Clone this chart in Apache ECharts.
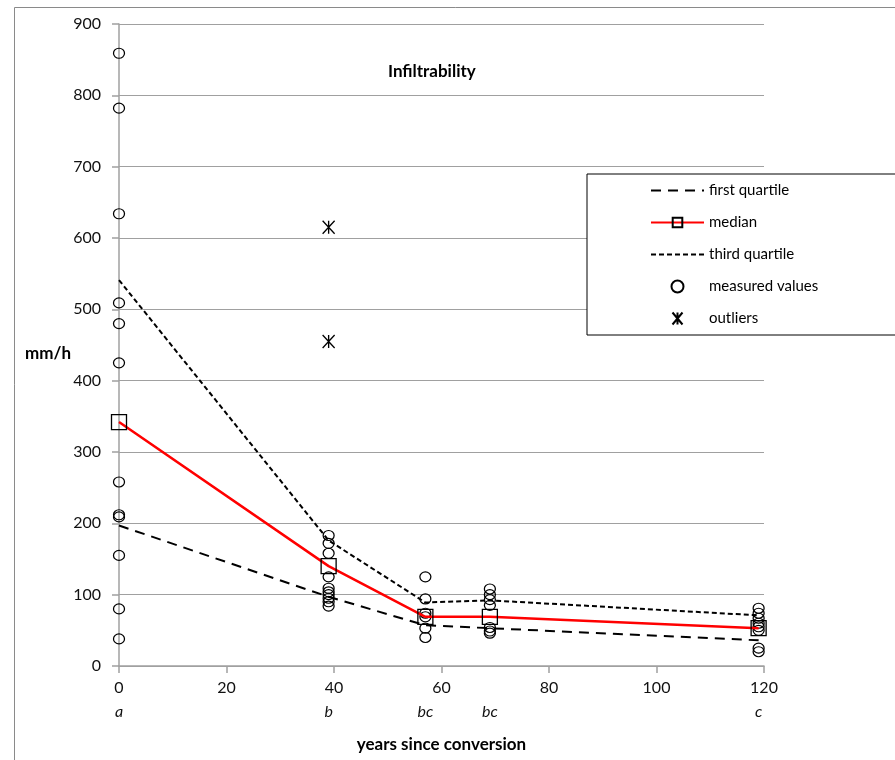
<!DOCTYPE html>
<html>
<head>
<meta charset="utf-8">
<title>Infiltrability</title>
<script src="https://cdn.jsdelivr.net/npm/echarts@6/dist/echarts.min.js"></script>
<style>
  html, body { margin: 0; padding: 0; background: #fff; }
  #chart { width: 895px; height: 760px; }
</style>
</head>
<body>
<div id="chart"></div>
<script>
// years since conversion for each group
const years = [0, 39, 57, 69, 119];
const groupLetters = ['a', 'b', 'bc', 'bc', 'c'];

const firstQuartile = [197, 97, 57, 53, 36];
const median = [342, 140, 69, 69, 53];
const thirdQuartile = [541, 176, 89, 92, 71];

// measured values per group
const measured0 = [859, 782, 634, 509, 480, 425, 258, 212, 209, 155, 80, 38];
const measured39 = [183, 172, 158, 125, 109, 104, 100, 95, 90, 84];
const measured57 = [125, 94, 74, 69, 53, 40];
const measured69 = [108, 100, 93, 85, 54, 49, 46];
const measured119 = [81, 74, 67, 60, 55, 50, 25, 20];

const outlierYear = 39;
const outliers = [615, 455];

const yTicks = [0, 100, 200, 300, 400, 500, 600, 700, 800, 900];
const xTicks = [0, 20, 40, 60, 80, 100, 120];

const font = 'Lato, "Open Sans", sans-serif';

let measuredGroups = [measured0, measured39, measured57, measured69, measured119];
let measuredPoints = [];
measuredGroups.forEach((vals, i) => {
  vals.forEach((v) => measuredPoints.push([years[i], v]));
});

let pair = (arr) => arr.map((v, i) => [years[i], v]);

// no marker in the legend for the quartile lines
let noMarker = { color: 'transparent', borderWidth: 0, opacity: 0 };

let chart = echarts.init(document.getElementById('chart'));

chart.setOption({
  animation: false,
  backgroundColor: '#fff',
  title: {
    text: 'Infiltrability',
    left: 383,
    top: 58,
    textStyle: { fontFamily: font, fontSize: 17, fontWeight: 'bold', color: '#000' }
  },
  grid: { left: 119, right: 131, top: 24, bottom: 94 },
  legend: {
    orient: 'vertical',
    left: 587,
    top: 174,
    padding: [9, 200, 9, 63],
    itemWidth: 53,
    itemHeight: 12,
    itemGap: 17,
    borderColor: '#000',
    borderWidth: 1,
    backgroundColor: '#fff',
    textStyle: { fontFamily: font, fontSize: 15, color: '#000', padding: [0, 0, 0, 0] },
    data: [
      { name: 'first quartile', itemStyle: noMarker },
      'median',
      { name: 'third quartile', itemStyle: noMarker },
      'measured values',
      'outliers'
    ]
  },
  xAxis: [{
    type: 'value',
    min: 0,
    max: 120,
    interval: 20,
    axisLine: { lineStyle: { color: '#a0a0a0', width: 1.5 } },
    axisTick: { length: 7, lineStyle: { color: '#a0a0a0', width: 1.5 } },
    axisLabel: {
      margin: 14,
      fontFamily: font,
      fontSize: 16,
      color: '#111',
      customValues: xTicks
    },
    splitLine: { show: false }
  }, {
    type: 'value',
    min: 0,
    max: 120,
    position: 'bottom',
    offset: 24,
    axisLine: { show: false },
    axisTick: { show: false },
    splitLine: { show: false },
    axisLabel: {
      margin: 14,
      fontFamily: font,
      fontSize: 16,
      fontStyle: 'italic',
      color: '#111',
      customValues: years,
      formatter: (v) => groupLetters[years.indexOf(v)]
    },
    name: 'years since conversion',
    nameLocation: 'middle',
    nameGap: 46,
    nameTextStyle: { fontFamily: font, fontSize: 17, fontWeight: 'bold', color: '#000' }
  }],
  yAxis: {
    type: 'value',
    min: 0,
    max: 900,
    interval: 100,
    axisLine: { show: true, lineStyle: { color: '#a0a0a0', width: 1.5 } },
    axisTick: { show: true, length: 7, lineStyle: { color: '#a0a0a0', width: 1.5 } },
    axisLabel: {
      margin: 18,
      fontFamily: font,
      fontSize: 16,
      color: '#111',
      customValues: yTicks
    },
    splitLine: { lineStyle: { color: '#a0a0a0', width: 1.2 } }
  },
  graphic: [
    {
      type: 'rect',
      left: 12,
      top: 5,
      shape: { width: 900, height: 800 },
      style: { fill: 'none', stroke: '#8a8a8a', lineWidth: 1 },
      silent: true
    },
    {
      type: 'text',
      left: 25,
      top: 345,
      style: { text: 'mm/h', font: 'bold 17px ' + font, fill: '#000' }
    }
  ],
  series: [
    {
      name: 'first quartile',
      type: 'line',
      data: pair(firstQuartile),
      symbol: 'none',
      lineStyle: { color: '#000', width: 2, type: [10, 7] },
      itemStyle: { color: '#000' },
      z: 2
    },
    {
      name: 'third quartile',
      type: 'line',
      data: pair(thirdQuartile),
      symbol: 'none',
      lineStyle: { color: '#000', width: 2, type: [5, 3] },
      itemStyle: { color: '#000' },
      z: 2
    },
    {
      name: 'median',
      type: 'line',
      data: pair(median),
      symbol: 'rect',
      symbolSize: 15,
      lineStyle: { color: '#ff0000', width: 2.5 },
      itemStyle: { color: 'transparent', borderColor: '#000', borderWidth: 1.3 },
      z: 4
    },
    {
      name: 'measured values',
      type: 'scatter',
      data: measuredPoints,
      symbol: 'circle',
      symbolSize: [11, 10],
      itemStyle: { color: 'transparent', borderColor: '#000', borderWidth: 1.2, opacity: 1 },
      z: 3
    },
    {
      name: 'outliers',
      type: 'scatter',
      data: outliers.map((v) => [outlierYear, v]),
      symbol: 'path://M0,0L10,12M10,0L0,12M5,0L5,12',
      symbolSize: [12, 13],
      itemStyle: { color: 'transparent', borderColor: '#000', borderWidth: 1.4, opacity: 1 },
      z: 3
    }
  ]
});
</script>
</body>
</html>
